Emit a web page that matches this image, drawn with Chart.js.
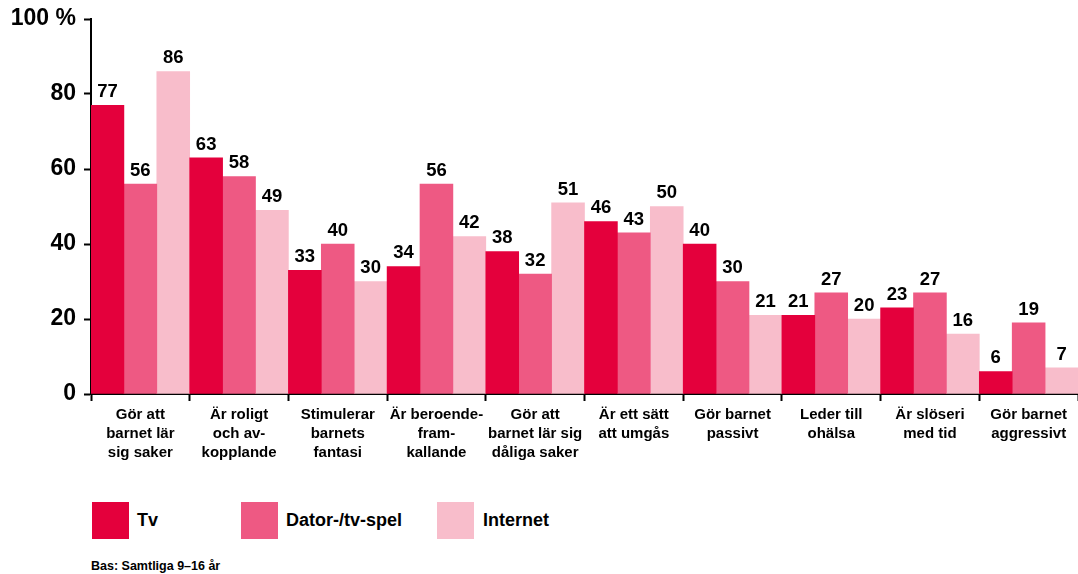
<!DOCTYPE html>
<html>
<head>
<meta charset="utf-8">
<script src="https://cdn.jsdelivr.net/npm/chart.js@4/dist/chart.umd.min.js"></script>
<style>
  body { margin: 0; background: #fff; font-family: "Liberation Sans", Arial, sans-serif; }
  #wrap { position: relative; width: 1078px; height: 574px; }
  #box { position: absolute; left: 0; top: 0; width: 1078px; height: 480px; }
  .sw { position: absolute; top: 502px; width: 37px; height: 37px; }
  .lt { position: absolute; top: 509px; font-weight: bold; font-size: 18px; line-height: 22px; color: #000; }
  #bas { position: absolute; left: 91px; top: 559px; font-weight: bold; font-size: 12.5px; color: #000; }
</style>
</head>
<body>
<div id="wrap">
  <div id="box"><canvas id="chart"></canvas></div>
  <div class="sw" style="left:92px;background:#E4003C"></div>
  <div class="lt" style="left:137px">Tv</div>
  <div class="sw" style="left:241px;background:#EE5983"></div>
  <div class="lt" style="left:286px">Dator-/tv-spel</div>
  <div class="sw" style="left:437px;background:#F8BDCB"></div>
  <div class="lt" style="left:483px">Internet</div>
  <div id="bas">Bas: Samtliga 9–16 år</div>
</div>
<script>
const categories = [
  ['Gör att', 'barnet lär', 'sig saker'],
  ['Är roligt', 'och av-', 'kopplande'],
  ['Stimulerar', 'barnets', 'fantasi'],
  ['Är beroende-', 'fram-', 'kallande'],
  ['Gör att', 'barnet lär sig', 'dåliga saker'],
  ['Är ett sätt', 'att umgås'],
  ['Gör barnet', 'passivt'],
  ['Leder till', 'ohälsa'],
  ['Är slöseri', 'med tid'],
  ['Gör barnet', 'aggressivt']
];
const tv = [77, 63, 33, 34, 38, 46, 40, 21, 23, 6];
const spel = [56, 58, 40, 56, 32, 43, 30, 27, 27, 19];
const internet = [86, 49, 30, 42, 51, 50, 21, 20, 16, 7];
const yTicks = [0, 20, 40, 60, 80, 100];

const FONT = '"Liberation Sans", Arial, sans-serif';

const valueLabels = {
  id: 'valueLabels',
  afterDatasetsDraw(chart) {
    const c = chart.ctx;
    c.save();
    c.font = 'bold 18.5px ' + FONT;
    c.fillStyle = '#000';
    c.textAlign = 'center';
    c.textBaseline = 'bottom';
    chart.data.datasets.forEach((ds, i) => {
      chart.getDatasetMeta(i).data.forEach((bar, j) => {
        c.fillText(ds.data[j], bar.x, bar.y - 4);
      });
    });
    c.restore();
  }
};

new Chart(document.getElementById('chart'), {
  type: 'bar',
  data: {
    labels: categories,
    datasets: [
      { label: 'Tv', data: tv, backgroundColor: '#E4003C' },
      { label: 'Dator-/tv-spel', data: spel, backgroundColor: '#EE5983' },
      { label: 'Internet', data: internet, backgroundColor: '#F8BDCB' }
    ]
  },
  options: {
    responsive: true,
    maintainAspectRatio: false,
    animation: false,
    categoryPercentage: 1,
    barPercentage: 1,
    layout: { padding: { top: 19, right: 0, bottom: 0, left: 0 } },
    plugins: { legend: { display: false }, tooltip: { enabled: false } },
    scales: {
      x: {
        afterFit(scale) { scale.height = 86; },
        border: { color: '#000', width: 2 },
        grid: { drawOnChartArea: false, drawTicks: true, tickLength: 7, tickColor: '#000', tickWidth: 2, offset: true },
        ticks: {
          color: '#000', padding: 4, maxRotation: 0, autoSkip: false,
          font: { family: FONT, size: 15, weight: 'bold', lineHeight: 1.27 }
        }
      },
      y: {
        min: 0, max: 100,
        afterFit(scale) { scale.width = 91; },
        afterBuildTicks(scale) { scale.ticks = yTicks.map(v => ({ value: v })); },
        border: { color: '#000', width: 2 },
        grid: { drawOnChartArea: false, drawTicks: true, tickLength: 7, tickColor: '#000', tickWidth: 2 },
        ticks: {
          color: '#000', padding: 8,
          font: { family: FONT, size: 23, weight: 'bold', lineHeight: 0.9 },
          callback: v => v === 100 ? '100 %' : v
        }
      }
    }
  },
  plugins: [valueLabels]
});
</script>
</body>
</html>
